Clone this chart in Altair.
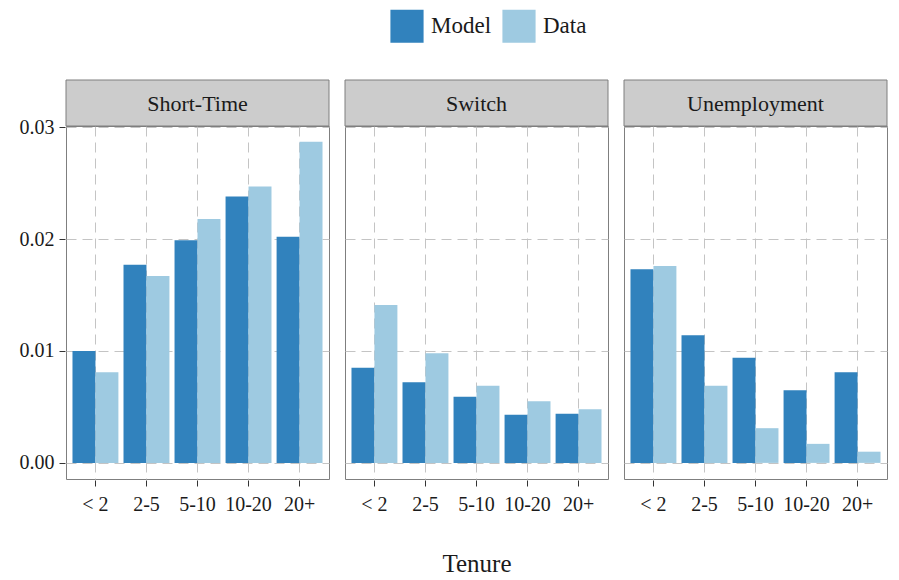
import altair as alt
import pandas as pd

tenure = ["< 2", "2-5", "5-10", "10-20", "20+"]
panels = ["Short-Time", "Switch", "Unemployment"]
series = ["Model", "Data"]

model_short = [0.0100, 0.0177, 0.0199, 0.0238, 0.0202]
data_short = [0.0081, 0.0167, 0.0218, 0.0247, 0.0287]
model_switch = [0.0085, 0.0072, 0.0059, 0.0043, 0.0044]
data_switch = [0.0141, 0.0098, 0.0069, 0.0055, 0.0048]
model_unemp = [0.0173, 0.0114, 0.0094, 0.0065, 0.0081]
data_unemp = [0.0176, 0.0069, 0.0031, 0.0017, 0.0010]

values = {
    ("Short-Time", "Model"): model_short,
    ("Short-Time", "Data"): data_short,
    ("Switch", "Model"): model_switch,
    ("Switch", "Data"): data_switch,
    ("Unemployment", "Model"): model_unemp,
    ("Unemployment", "Data"): data_unemp,
}

rows = []
for p in panels:
    for s in series:
        for t, v in zip(tenure, values[(p, s)]):
            rows.append({"panel": p, "series": s, "tenure": t, "value": v})
df = pd.DataFrame(rows)

FONT = "Liberation Serif"
W, H = 263, 353

base = alt.Chart(df)

bars = base.mark_bar().encode(
    x=alt.X(
        "tenure:N",
        sort=tenure,
        scale=alt.Scale(paddingInner=0.1, paddingOuter=0.127),
        axis=alt.Axis(title=None, bandPosition=0.5, labelAngle=0, labelPadding=8),
    ),
    xOffset=alt.XOffset("series:N", sort=series,
                        scale=alt.Scale(paddingInner=0, paddingOuter=0)),
    y=alt.Y(
        "value:Q",
        scale=alt.Scale(domain=[-0.00144, 0.0301], nice=False, zero=False),
        axis=alt.Axis(values=[0, 0.01, 0.02, 0.03], format=".2f", title=None),
    ),
    color=alt.Color(
        "series:N",
        sort=series,
        scale=alt.Scale(domain=series, range=["#3182bd", "#9ecae1"]),
        legend=alt.Legend(
            title=None, orient="none", direction="horizontal",
            legendX=324, legendY=-117, symbolType="square", symbolSize=1100,
            symbolStrokeWidth=0, labelFontSize=23, labelFont=FONT,
            labelColor="#1a1a1a", columnPadding=10, labelOffset=7,
        ),
    ),
)

strip = base.mark_rect(fill="#cccccc", stroke="#7f7f7f", strokeWidth=1).encode(
    x=alt.value(0), x2=alt.value(W), y=alt.value(-46), y2=alt.value(0)
).transform_filter("datum.series == 'Model' && datum.tenure == '< 2'")

strip_text = base.mark_text(font=FONT, fontSize=22, color="#1a1a1a").encode(
    text="panel:N", x=alt.value(W / 2), y=alt.value(-22)
).transform_filter("datum.series == 'Model' && datum.tenure == '< 2'")

chart = alt.layer(bars, strip, strip_text).properties(
    width=W, height=H
).facet(
    column=alt.Column(
        "panel:N", sort=panels,
        header=alt.Header(labels=False, title="Tenure", titleOrient="bottom",
                          titleFont=FONT, titleFontSize=25, titleFontWeight="normal",
                          titleColor="#1a1a1a", titlePadding=28),
    ),
    spacing=14,
).configure_view(
    stroke="#7f7f7f", strokeWidth=1
).configure_axis(
    domain=False,
    grid=True,
    gridColor="#c4c4c4",
    gridDash=[10, 6],
    gridWidth=1,
    tickColor="#333333",
    tickSize=6,
    labelFont=FONT,
    labelFontSize=20,
    labelColor="#1a1a1a",
    labelPadding=5,
).properties(
    padding={"left": 11, "top": 1, "right": 0, "bottom": 0},
    background="white",
)

chart.save("out.html", embed_options={"renderer": "svg", "actions": False})
